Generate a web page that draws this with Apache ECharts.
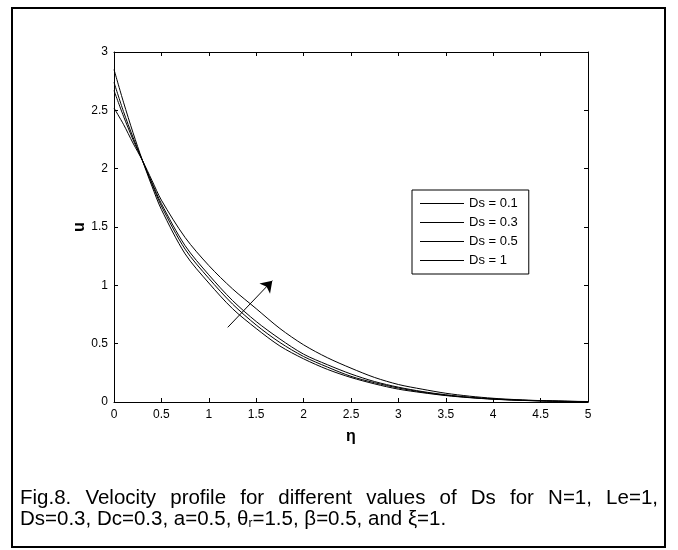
<!DOCTYPE html>
<html>
<head>
<meta charset="utf-8">
<script src="https://cdn.jsdelivr.net/npm/echarts@6/dist/echarts.min.js"></script>
<style>
  html, body { margin: 0; padding: 0; background: #fff; }
  #wrap { position: relative; width: 678px; height: 550px; }
  #main_01 { position: absolute; left: 0; top: 0; width: 678px; height: 550px; }
  #caption {
    position: absolute; left: 20px; top: 486px; width: 638px;
    font-family: "Liberation Sans", Arial, sans-serif; font-size: 20.5px; line-height: 21px; color: #000;
  }
  #caption .l1 { text-align: justify; text-align-last: justify; }
</style>
</head>
<body>
<div id="wrap">
  <div id="main_01"></div>
  <div id="caption">
    <div class="l1">Fig.8. Velocity profile for different values of Ds for N=1, Le=1,</div>
    <div>Ds=0.3, Dc=0.3, a=0.5, &theta;<sub style="font-size:12px;vertical-align:-2px">r</sub>=1.5, &beta;=0.5, and &xi;=1.</div>
  </div>
</div>
<script>
  // eta grid
  let eta = [0, 0.1, 0.2, 0.3, 0.4, 0.5, 0.75, 1, 1.25, 1.5, 1.75, 2, 2.25, 2.5, 2.75, 3, 3.25, 3.5, 3.75, 4, 4.25, 4.5, 4.75, 5];
  let seriesNames = ['Ds = 0.1', 'Ds = 0.3', 'Ds = 0.5', 'Ds = 1'];
  let uDs01 = [2.85, 2.57, 2.31, 2.07, 1.85, 1.65, 1.27, 1.02, 0.80, 0.63, 0.48, 0.37, 0.28, 0.21, 0.155, 0.11, 0.08, 0.055, 0.037, 0.024, 0.015, 0.009, 0.005, 0.003];
  let uDs03 = [2.74, 2.49, 2.27, 2.07, 1.87, 1.68, 1.31, 1.06, 0.84, 0.66, 0.51, 0.39, 0.30, 0.22, 0.165, 0.12, 0.085, 0.058, 0.039, 0.025, 0.016, 0.010, 0.006, 0.003];
  let uDs05 = [2.67, 2.45, 2.25, 2.07, 1.88, 1.70, 1.34, 1.09, 0.87, 0.69, 0.54, 0.41, 0.32, 0.24, 0.175, 0.127, 0.09, 0.062, 0.041, 0.027, 0.017, 0.011, 0.006, 0.003];
  let uDs1 = [2.52, 2.38, 2.22, 2.07, 1.90, 1.73, 1.41, 1.17, 0.97, 0.80, 0.63, 0.49, 0.38, 0.29, 0.21, 0.15, 0.11, 0.075, 0.05, 0.032, 0.02, 0.012, 0.007, 0.004];
  let arrowFrom = [1.2, 0.64];
  let arrowTo = [1.67, 1.04];

  let allU = [uDs01, uDs03, uDs05, uDs1];
  let font = '"Liberation Sans", Arial, sans-serif';

  function axisX(pos, show) {
    return {
      type: 'value', position: pos, min: 0, max: 5, interval: 0.5,
      name: show ? 'η' : '', nameLocation: 'middle', nameGap: 27, nameMoveOverlap: false,
      nameTextStyle: { fontFamily: font, fontSize: 16, fontWeight: 'bold', color: '#000' },
      axisLine: { show: true, onZero: false, lineStyle: { color: '#000', width: 1 } },
      axisTick: { show: true, inside: true, length: 4, lineStyle: { color: '#000' } },
      axisLabel: { show: show, margin: 7, fontFamily: font, fontSize: 12, color: '#000' },
      splitLine: { show: false }
    };
  }
  function axisY(pos, show) {
    return {
      type: 'value', position: pos, min: 0, max: 3, interval: 0.5,
      name: show ? 'u' : '', nameLocation: 'middle', nameGap: 26, nameMoveOverlap: false,
      nameTextStyle: { fontFamily: font, fontSize: 16, fontWeight: 'bold', color: '#000' },
      axisLine: { show: true, onZero: false, lineStyle: { color: '#000', width: 1 } },
      axisTick: { show: true, inside: true, length: 4, lineStyle: { color: '#000' } },
      axisLabel: { show: show, margin: 6, fontFamily: font, fontSize: 12, color: '#000' },
      splitLine: { show: false }
    };
  }

  let series = seriesNames.map((name, i) => {
    let s = {
      name: name,
      type: 'line',
      xAxisIndex: 0,
      yAxisIndex: 0,
      symbol: 'none',
      smooth: 0.3,
      lineStyle: { color: '#000', width: 1 },
      itemStyle: { color: '#000' },
      data: eta.map((x, j) => [x, allU[i][j]])
    };
    if (i === 0) {
      s.markLine = {
        silent: true,
        symbol: ['none', 'arrow'],
        symbolSize: 11,
        label: { show: false },
        lineStyle: { color: '#000', width: 1, type: 'solid' },
        data: [[{ coord: arrowFrom }, { coord: arrowTo }]]
      };
    }
    return s;
  });

  let chart = echarts.init(document.getElementById('main_01'));
  let option = {
    animation: false,
    backgroundColor: '#fff',
    grid: { left: 114, top: 52, width: 474, height: 350, containLabel: false },
    xAxis: [axisX('bottom', true), axisX('top', false)],
    yAxis: [axisY('left', true), axisY('right', false)],
    legend: {
      orient: 'vertical',
      left: 412,
      top: 190,
      padding: [6, 11, 6, 8],
      icon: 'rect',
      itemWidth: 44,
      itemHeight: 1,
      itemGap: 4,
      borderColor: '#000',
      borderWidth: 1,
      backgroundColor: '#fff',
      textStyle: { fontFamily: font, fontSize: 13, color: '#000', lineHeight: 15 },
      data: seriesNames
    },
    graphic: [{
      type: 'rect',
      shape: { x: 12, y: 8, width: 653, height: 539 },
      style: { fill: 'none', stroke: '#000', lineWidth: 2 },
      z: 100
    }],
    series: series
  };
  chart.setOption(option);
</script>
</body>
</html>
